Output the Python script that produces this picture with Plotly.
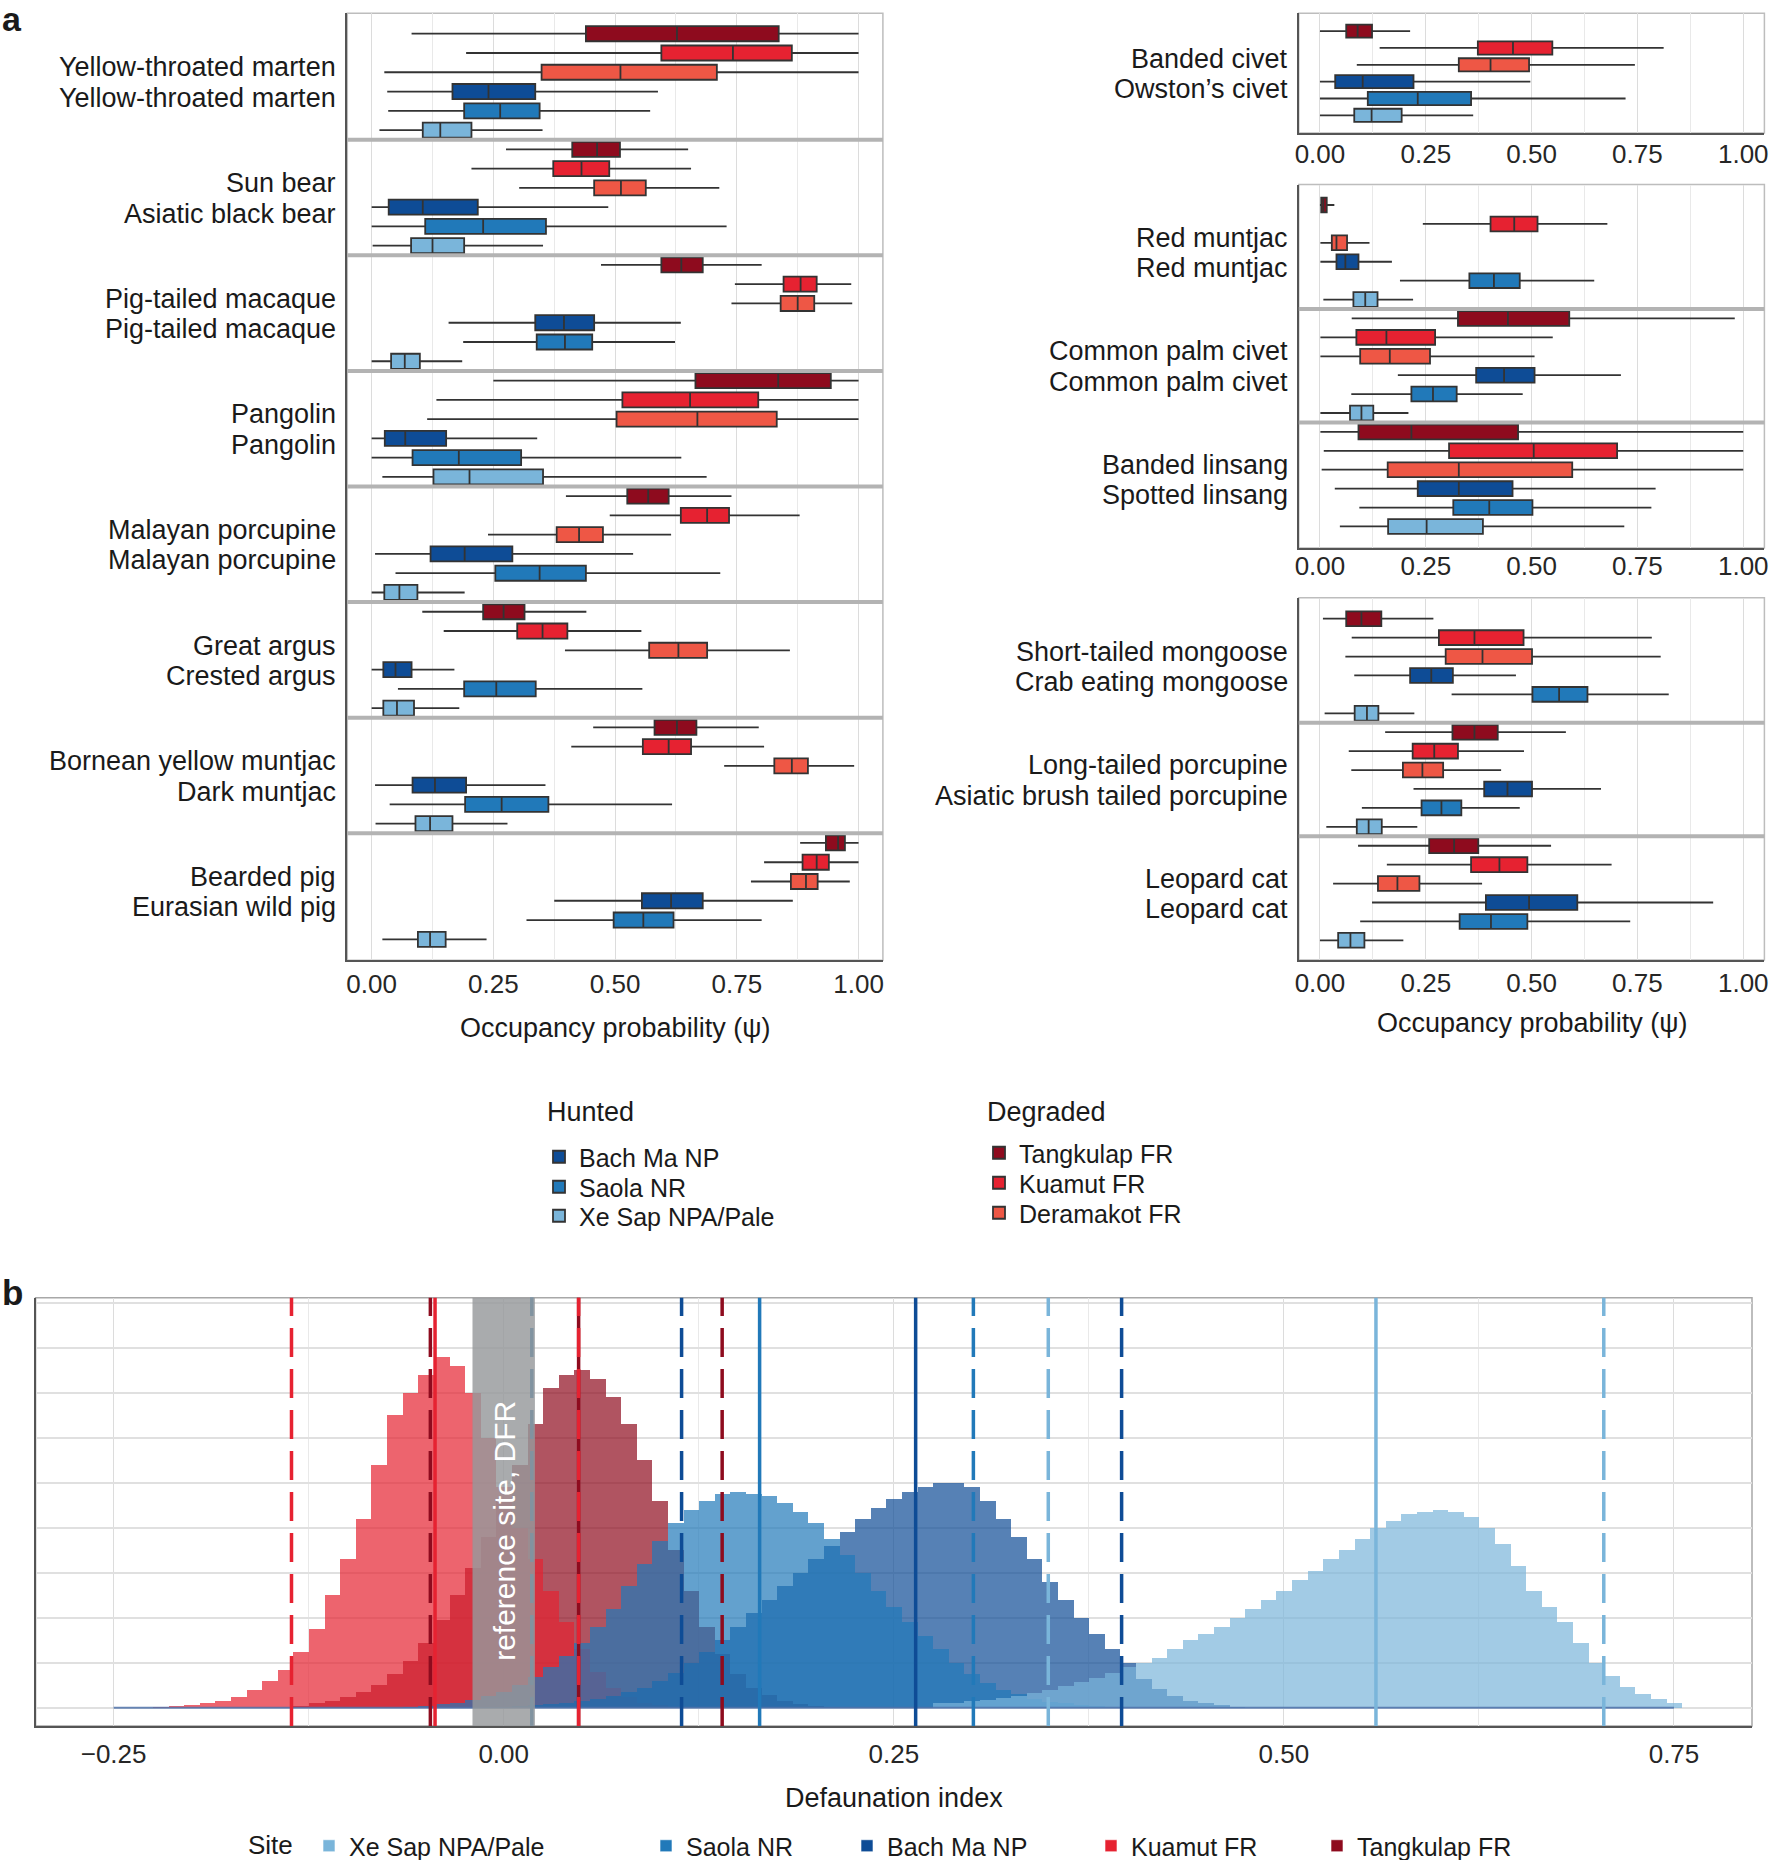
import plotly.graph_objects as go

W, H = 1771, 1860
FONT = "Liberation Sans, Arial, Helvetica, sans-serif"
TXT = "#1a1a1a"

# ---------------------------------------------------------------- panel a data
species_line1 = ["Yellow-throated marten", "Sun bear", "Pig-tailed macaque", "Pangolin",
                 "Malayan porcupine", "Great argus", "Bornean yellow muntjac", "Bearded pig",
                 "Banded civet", "Red muntjac", "Common palm civet", "Banded linsang",
                 "Short-tailed mongoose", "Long-tailed porcupine", "Leopard cat"]
species_line2 = ["Yellow-throated marten", "Asiatic black bear", "Pig-tailed macaque", "Pangolin",
                 "Malayan porcupine", "Crested argus", "Dark muntjac", "Eurasian wild pig",
                 "Owston\u2019s civet", "Red muntjac", "Common palm civet", "Spotted linsang",
                 "Crab eating mongoose", "Asiatic brush tailed porcupine", "Leopard cat"]

site_names = ["Tangkulap FR", "Kuamut FR", "Deramakot FR", "Bach Ma NP", "Saola NR", "Xe Sap NPA/Pale"]

# occupancy: [lower whisker, Q1, median, Q3, upper whisker] per species pair
tangkulap_fr = [[0.082, 0.440, 0.627, 0.836, 1.000], [0.276, 0.412, 0.463, 0.510, 0.650],
                [0.471, 0.595, 0.636, 0.680, 0.801], [0.250, 0.665, 0.835, 0.943, 1.000],
                [0.399, 0.525, 0.568, 0.610, 0.739], [0.104, 0.229, 0.271, 0.314, 0.441],
                [0.455, 0.581, 0.627, 0.667, 0.795], [0.880, 0.933, 0.958, 0.972, 1.000],
                [0.000, 0.062, 0.089, 0.123, 0.213], [0.000, 0.003, 0.008, 0.016, 0.034],
                [0.075, 0.326, 0.444, 0.589, 0.980], [0.001, 0.091, 0.216, 0.468, 1.000],
                [0.007, 0.062, 0.098, 0.145, 0.268], [0.154, 0.313, 0.365, 0.420, 0.581],
                [0.090, 0.258, 0.317, 0.374, 0.546]]
kuamut_fr = [[0.194, 0.595, 0.742, 0.863, 1.000], [0.205, 0.373, 0.431, 0.488, 0.656],
             [0.746, 0.846, 0.881, 0.914, 0.985], [0.133, 0.515, 0.654, 0.794, 1.000],
             [0.489, 0.635, 0.689, 0.734, 0.879], [0.148, 0.299, 0.351, 0.402, 0.554],
             [0.410, 0.557, 0.610, 0.656, 0.806], [0.806, 0.885, 0.914, 0.939, 1.000],
             [0.141, 0.373, 0.456, 0.549, 0.812], [0.243, 0.403, 0.459, 0.514, 0.679],
             [0.001, 0.086, 0.157, 0.272, 0.550], [0.009, 0.305, 0.505, 0.702, 1.000],
             [0.075, 0.281, 0.365, 0.481, 0.784], [0.068, 0.219, 0.270, 0.326, 0.482],
             [0.158, 0.357, 0.424, 0.490, 0.689]]
deramakot_fr = [[0.026, 0.349, 0.511, 0.709, 1.000], [0.303, 0.457, 0.512, 0.563, 0.714],
                [0.739, 0.840, 0.875, 0.909, 0.987], [0.114, 0.503, 0.669, 0.832, 1.000],
                [0.239, 0.380, 0.426, 0.475, 0.615], [0.397, 0.570, 0.630, 0.689, 0.859],
                [0.724, 0.827, 0.863, 0.896, 0.991], [0.779, 0.861, 0.892, 0.916, 0.982],
                [0.087, 0.328, 0.403, 0.494, 0.744], [0.001, 0.028, 0.039, 0.064, 0.117],
                [0.001, 0.095, 0.165, 0.260, 0.507], [0.004, 0.160, 0.328, 0.596, 1.000],
                [0.060, 0.297, 0.384, 0.501, 0.805], [0.074, 0.196, 0.242, 0.291, 0.428],
                [0.031, 0.137, 0.183, 0.235, 0.383]]
bach_ma_np = [[0.032, 0.166, 0.240, 0.336, 0.588], [0.000, 0.035, 0.105, 0.218, 0.486],
              [0.158, 0.336, 0.395, 0.457, 0.635], [0.000, 0.027, 0.069, 0.153, 0.340],
              [0.007, 0.121, 0.191, 0.289, 0.537], [0.000, 0.024, 0.049, 0.082, 0.170],
              [0.007, 0.084, 0.130, 0.194, 0.357], [0.375, 0.555, 0.615, 0.680, 0.865],
              [0.000, 0.036, 0.101, 0.221, 0.497], [0.001, 0.039, 0.060, 0.091, 0.170],
              [0.184, 0.369, 0.435, 0.507, 0.711], [0.035, 0.231, 0.328, 0.455, 0.793],
              [0.081, 0.213, 0.263, 0.314, 0.463], [0.221, 0.388, 0.443, 0.501, 0.664],
              [0.123, 0.392, 0.494, 0.608, 0.929]]
saola_nr = [[0.034, 0.190, 0.264, 0.345, 0.572], [0.000, 0.110, 0.229, 0.358, 0.729],
            [0.188, 0.339, 0.397, 0.453, 0.623], [0.000, 0.084, 0.179, 0.307, 0.636],
            [0.049, 0.254, 0.345, 0.440, 0.716], [0.054, 0.190, 0.256, 0.337, 0.556],
            [0.037, 0.192, 0.267, 0.363, 0.617], [0.318, 0.497, 0.558, 0.620, 0.801],
            [0.000, 0.113, 0.231, 0.357, 0.722], [0.189, 0.353, 0.411, 0.472, 0.648],
            [0.074, 0.216, 0.267, 0.323, 0.479], [0.093, 0.315, 0.400, 0.502, 0.783],
            [0.311, 0.502, 0.565, 0.632, 0.824], [0.099, 0.240, 0.287, 0.334, 0.472],
            [0.095, 0.330, 0.404, 0.490, 0.733]]
xe_sap_npa = [[0.016, 0.105, 0.141, 0.205, 0.351], [0.002, 0.081, 0.125, 0.190, 0.352],
              [0.000, 0.040, 0.068, 0.099, 0.186], [0.022, 0.127, 0.201, 0.352, 0.688],
              [0.000, 0.026, 0.057, 0.094, 0.191], [0.000, 0.024, 0.052, 0.087, 0.180],
              [0.008, 0.090, 0.120, 0.166, 0.279], [0.022, 0.095, 0.120, 0.152, 0.236],
              [0.000, 0.081, 0.122, 0.193, 0.362], [0.008, 0.079, 0.107, 0.136, 0.220],
              [0.001, 0.071, 0.098, 0.126, 0.209], [0.047, 0.161, 0.252, 0.385, 0.719],
              [0.011, 0.082, 0.111, 0.138, 0.223], [0.015, 0.087, 0.115, 0.146, 0.230],
              [0.000, 0.043, 0.072, 0.105, 0.197]]

occupancy = [tangkulap_fr, kuamut_fr, deramakot_fr, bach_ma_np, saola_nr, xe_sap_npa]
site_colors = ["#8E0B1E", "#E62231", "#EE5745", "#0E4C96", "#2179B9", "#7AB5DA"]

# ---------------------------------------------------------------- panel b data
bin_width = 0.01
bin_range = [-0.25, 0.75]
reference_band = [-0.02, 0.02]

tangkulap_start = -0.13
tangkulap_counts = [0.05, 0.1, 0.15, 0.25, 0.35, 0.5, 0.75, 1.05, 1.45, 1.95, 2.5, 3.1, 3.8, 4.6,
                    5.4, 6.3, 7.1, 7.4, 7.5, 7.3, 6.9, 6.3, 5.5, 4.6, 3.5, 2.6, 1.8, 1.2, 0.75,
                    0.45, 0.28, 0.16, 0.09, 0.05, 0.03]
kuamut_start = -0.22
kuamut_counts = [0.03, 0.05, 0.07, 0.1, 0.15, 0.25, 0.4, 0.6, 0.85, 1.25, 1.75, 2.5, 3.3, 4.2,
                 5.4, 6.5, 7.0, 7.4, 7.8, 7.6, 7.0, 6.0, 4.9, 4.0, 3.3, 2.6, 1.9, 1.3, 0.8,
                 0.45, 0.25, 0.12, 0.06, 0.03]
bach_ma_start = -0.01
bach_ma_counts = [0.02, 0.03, 0.04, 0.06, 0.08, 0.11, 0.15, 0.2, 0.27, 0.35, 0.45, 0.6, 0.78,
                  1.0, 1.25, 1.5, 1.8, 2.1, 2.4, 2.7, 3.0, 3.3, 3.6, 3.9, 4.2, 4.45, 4.65, 4.8,
                  4.9, 5.0, 5.0, 4.9, 4.6, 4.2, 3.8, 3.3, 2.8, 2.4, 2.0, 1.65, 1.3, 1.0, 0.65,
                  0.42, 0.26, 0.16, 0.1, 0.06, 0.03]
saola_start = -0.06
saola_counts = [0.03, 0.05, 0.08, 0.12, 0.18, 0.26, 0.36, 0.5, 0.68, 0.9, 1.15, 1.45, 1.8, 2.2,
                2.7, 3.2, 3.7, 4.1, 4.4, 4.6, 4.75, 4.8, 4.75, 4.7, 4.55, 4.35, 4.1, 3.75, 3.4,
                3.0, 2.6, 2.25, 1.9, 1.6, 1.3, 1.0, 0.75, 0.55, 0.4, 0.3, 0.2, 0.14, 0.1, 0.07,
                0.05, 0.03, 0.02]
xe_sap_start = 0.28
xe_sap_counts = [0.1, 0.12, 0.15, 0.18, 0.22, 0.27, 0.33, 0.4, 0.48, 0.57, 0.67, 0.78, 0.9, 1.0,
                 1.1, 1.3, 1.5, 1.65, 1.8, 2.0, 2.2, 2.4, 2.6, 2.85, 3.05, 3.3, 3.5, 3.75, 4.0,
                 4.15, 4.3, 4.35, 4.4, 4.35, 4.25, 4.0, 3.65, 3.15, 2.6, 2.25, 1.9, 1.45, 1.0,
                 0.7, 0.47, 0.32, 0.2, 0.1]

# [lower 95% CI, median, upper 95% CI] of the defaunation index
tangkulap_di = [-0.047, 0.048, 0.140]
kuamut_di = [-0.136, -0.044, 0.048]
bach_ma_di = [0.114, 0.264, 0.396]
saola_di = [0.018, 0.164, 0.301]
xe_sap_di = [0.349, 0.559, 0.705]

# drawing order (bottom -> top)
hist_sites = ["Tangkulap FR", "Kuamut FR", "Bach Ma NP", "Saola NR", "Xe Sap NPA/Pale"]
hist_starts = [tangkulap_start, kuamut_start, bach_ma_start, saola_start, xe_sap_start]
hist_counts = [tangkulap_counts, kuamut_counts, bach_ma_counts, saola_counts, xe_sap_counts]
hist_di = [tangkulap_di, kuamut_di, bach_ma_di, saola_di, xe_sap_di]
hist_rgb = [(142, 11, 30), (230, 34, 49), (14, 76, 150), (33, 121, 185), (122, 181, 218)]
legend_b_order = ["Xe Sap NPA/Pale", "Saola NR", "Bach Ma NP", "Kuamut FR", "Tangkulap FR"]

# ---------------------------------------------------------------- layout helpers
def px_x(v):
    return v / W


def px_y(v):
    return 1 - v / H


blocks = [
    dict(ax="", panels=list(range(0, 8)), xd=(347.3, 882.9), yd=(13.3, 960.3), pad=(1.06, 1.09), so=0),
    dict(ax="2", panels=list(range(8, 9)), xd=(1298.8, 1764.4), yd=(13.2, 133.0), pad=(1.065, 1.05), so=-3),
    dict(ax="3", panels=list(range(9, 12)), xd=(1298.8, 1764.4), yd=(184.6, 548.0), pad=(1.08, 1.14), so=-6),
    dict(ax="4", panels=list(range(12, 15)), xd=(1298.8, 1764.4), yd=(597.7, 960.0), pad=(1.11, 1.04), so=-1),
]

# legend placement (one legend per entry: left text edge x, centre y)
box_legend_ids = ["legend4", "legend5", "legend6", "legend", "legend2", "legend3"]
box_legend_pos = [(1018, 1153), (1018, 1183), (1018, 1213), (578, 1157), (578, 1187), (578, 1216)]
hist_legend_ids = ["legend7", "legend8", "legend9", "legend10", "legend11"]
hist_legend_text_x = [348, 685, 886, 1130, 1356]

fig = go.Figure()
shapes = []
annotations = []
layout_extra = {}

grid_major = "#dcdcdc"
grid_minor = "#e9e9e9"

for bi, b in enumerate(blocks):
    xa = "x" + b["ax"]
    ya = "y" + b["ax"]
    n = 6 * len(b["panels"])
    for j in range(6):
        pos, lo, q1, med, q3, hi = [], [], [], [], [], []
        for pl, p in enumerate(b["panels"]):
            s = occupancy[j][p]
            pos.append(6 * pl + j + 1)
            lo.append(s[0]); q1.append(s[1]); med.append(s[2]); q3.append(s[3]); hi.append(s[4])
        fig.add_trace(go.Box(
            y=pos, lowerfence=lo, q1=q1, median=med, q3=q3, upperfence=hi,
            orientation="h", name=site_names[j], fillcolor=site_colors[j],
            line=dict(color="#333333", width=1.8), whiskerwidth=0, width=0.78,
            boxpoints=False, xaxis=xa, yaxis=ya, legend=box_legend_ids[j],
            showlegend=(bi == 0), hoverinfo="skip"))
    key = b["ax"]
    layout_extra["xaxis" + key] = dict(
        domain=[px_x(b["xd"][0]), px_x(b["xd"][1])], anchor=ya, range=[-0.05, 1.05],
        tickmode="linear", tick0=0, dtick=0.25, tickformat=".2f",
        showgrid=True, gridcolor=grid_major, gridwidth=1.3,
        minor=dict(dtick=0.125, tick0=0, showgrid=True, gridcolor=grid_minor, gridwidth=1.3),
        showline=True, linecolor="#555555", linewidth=1.5, mirror=False, zeroline=False,
        ticks="", ticklabelstandoff=b["so"],
        tickfont=dict(size=26, color="#262626", family=FONT))
    layout_extra["yaxis" + key] = dict(
        domain=[px_y(b["yd"][1]), px_y(b["yd"][0])], anchor=xa,
        range=[n + b["pad"][1], 1 - b["pad"][0]],
        showticklabels=False, showgrid=False, zeroline=False, ticks="",
        showline=True, linecolor="#555555", linewidth=1.5, mirror=False)
    # light panel border (top / right)
    shapes.append(dict(type="rect", xref=xa + " domain", yref=ya + " domain", x0=0, x1=1, y0=0, y1=1,
                       line=dict(color="#bdbdbd", width=1.5), layer="below"))
    # separators between species pairs
    for pl in range(1, len(b["panels"])):
        yv = 6 * pl + 0.5
        shapes.append(dict(type="line", xref=xa + " domain", yref=ya, x0=0, x1=1, y0=yv, y1=yv,
                           line=dict(color="#b3b3b3", width=4), layer="above"))
    # species labels
    for pl, p in enumerate(b["panels"]):
        yc = 6 * pl + 3.5
        for txt, sh in ((species_line1[p], 14.4), (species_line2[p], -16.0)):
            annotations.append(dict(text=txt, xref="paper", x=px_x(b["xd"][0]), xanchor="right",
                                    xshift=-9, yref=ya, y=yc, yanchor="middle", yshift=sh,
                                    showarrow=False, font=dict(size=27, color=TXT, family=FONT)))

# axis titles panel a
annotations.append(dict(text="Occupancy probability (\u03c8)", xref="paper", yref="paper",
                        x=px_x(615), y=px_y(1028), xanchor="center", yanchor="middle",
                        showarrow=False, font=dict(size=27, color=TXT, family=FONT)))
annotations.append(dict(text="Occupancy probability (\u03c8)", xref="paper", yref="paper",
                        x=px_x(1531.6), y=px_y(1023), xanchor="center", yanchor="middle",
                        showarrow=False, font=dict(size=27, color=TXT, family=FONT)))
# legend titles panel a
for t, xx in (("Hunted", 545), ("Degraded", 985)):
    annotations.append(dict(text=t, xref="paper", yref="paper", x=px_x(xx), y=px_y(1112),
                            xanchor="left", yanchor="middle", showarrow=False,
                            font=dict(size=27, color=TXT, family=FONT)))

# ---------------------------------------------------------------- panel b
for name, start, counts, rgb in zip(hist_sites, hist_starts, hist_counts, hist_rgb):
    centers = [round(start + bin_width * i, 4) for i in range(len(counts))]
    fig.add_trace(go.Bar(
        x=centers, y=counts, width=bin_width, name=name,
        marker=dict(color="rgba(%d,%d,%d,0.70)" % rgb, line=dict(width=0)),
        xaxis="x5", yaxis="y5", showlegend=False, hoverinfo="skip"))

fig.add_trace(go.Scatter(x=bin_range, y=[0, 0], mode="lines",
                         line=dict(color="rgba(80,115,170,0.85)", width=2),
                         xaxis="x5", yaxis="y5", showlegend=False, hoverinfo="skip"))

for k, nm in enumerate(legend_b_order):
    idx = hist_sites.index(nm)
    fig.add_trace(go.Bar(x=[None], y=[None], name=nm,
                         marker=dict(color="rgb(%d,%d,%d)" % hist_rgb[idx],
                                     line=dict(color="rgba(255,255,255,0.6)", width=1)),
                         xaxis="x5", yaxis="y5", legend=hist_legend_ids[k], showlegend=True))

layout_extra["xaxis5"] = dict(
    domain=[px_x(35.6), px_x(1752)], anchor="y5", range=[-0.30, 0.80],
    tickmode="linear", tick0=0, dtick=0.25, tickformat=".2f",
    showgrid=True, gridcolor=grid_major, gridwidth=1.3,
    minor=dict(dtick=0.125, tick0=0, showgrid=True, gridcolor=grid_minor, gridwidth=1.3),
    showline=True, linecolor="#555555", linewidth=1.5, zeroline=False, ticks="",
    ticklabelstandoff=4, tickfont=dict(size=26, color="#262626", family=FONT))
layout_extra["yaxis5"] = dict(
    domain=[px_y(1726), px_y(1297.7)], anchor="x5", range=[-0.407, 9.11],
    tickmode="linear", tick0=0, dtick=1, showticklabels=False,
    showgrid=True, gridcolor="#e0e0e0", gridwidth=1.5, zeroline=False, ticks="",
    showline=True, linecolor="#555555", linewidth=1.5)
shapes.append(dict(type="rect", xref="x5 domain", yref="y5 domain", x0=0, x1=1, y0=0, y1=1,
                   line=dict(color="#a8a8a8", width=1.5), layer="below"))

for di, rgb in zip(hist_di, hist_rgb):
    col = "rgb(%d,%d,%d)" % rgb
    for k, v in enumerate(di):
        shapes.append(dict(type="line", xref="x5", yref="y5 domain", x0=v, x1=v, y0=0, y1=1,
                           line=dict(color=col, width=3.5,
                                     dash="solid" if k == 1 else "29px,12px"),
                           layer="above"))

shapes.append(dict(type="rect", xref="x5", yref="y5 domain", x0=reference_band[0],
                   x1=reference_band[1], y0=0, y1=1, fillcolor="rgba(150,153,155,0.82)",
                   line=dict(width=0), layer="above"))
annotations.append(dict(text="reference site, DFR", xref="x5", yref="y5 domain",
                        x=(reference_band[0] + reference_band[1]) / 2, y=0.455, textangle=-90,
                        xanchor="center", yanchor="middle", showarrow=False,
                        font=dict(size=30, color="white", family=FONT)))
annotations.append(dict(text="Defaunation index", xref="paper", yref="paper",
                        x=px_x(894), y=px_y(1798), xanchor="center", yanchor="middle",
                        showarrow=False, font=dict(size=27, color=TXT, family=FONT)))
annotations.append(dict(text="Site", xref="paper", yref="paper", x=px_x(246), y=px_y(1845),
                        xanchor="left", yanchor="middle", showarrow=False,
                        font=dict(size=26, color=TXT, family=FONT)))

# panel letters
annotations.append(dict(text="<b>a</b>", xref="paper", yref="paper", x=px_x(0), y=px_y(19),
                        xanchor="left", yanchor="middle", showarrow=False,
                        font=dict(size=34, color=TXT, family=FONT)))
annotations.append(dict(text="<b>b</b>", xref="paper", yref="paper", x=px_x(0), y=px_y(1292),
                        xanchor="left", yanchor="middle", showarrow=False,
                        font=dict(size=35, color=TXT, family=FONT)))

# legends: one per entry so each sits where the reference puts it
for lid, (tx, ty) in zip(box_legend_ids, box_legend_pos):
    layout_extra[lid] = dict(x=px_x(tx - 39), y=px_y(ty), xanchor="left", yanchor="middle",
                             bgcolor="rgba(0,0,0,0)", itemwidth=30,
                             font=dict(size=25, color=TXT, family=FONT))
for lid, tx in zip(hist_legend_ids, hist_legend_text_x):
    layout_extra[lid] = dict(x=px_x(tx - 39), y=px_y(1846), xanchor="left", yanchor="middle",
                             orientation="h", bgcolor="rgba(0,0,0,0)", itemwidth=30,
                             font=dict(size=25, color=TXT, family=FONT))

fig.update_layout(
    width=W, height=H, autosize=False,
    margin=dict(l=0, r=0, t=0, b=0, autoexpand=False),
    paper_bgcolor="white", plot_bgcolor="white",
    font=dict(family=FONT, color=TXT),
    barmode="overlay", bargap=0, boxmode="overlay",
    shapes=shapes, annotations=annotations,
    **layout_extra,
)

fig.write_html("out.html", config={"displayModeBar": False},
               post_script="document.body.style.margin='0';document.body.style.overflow='hidden';")
